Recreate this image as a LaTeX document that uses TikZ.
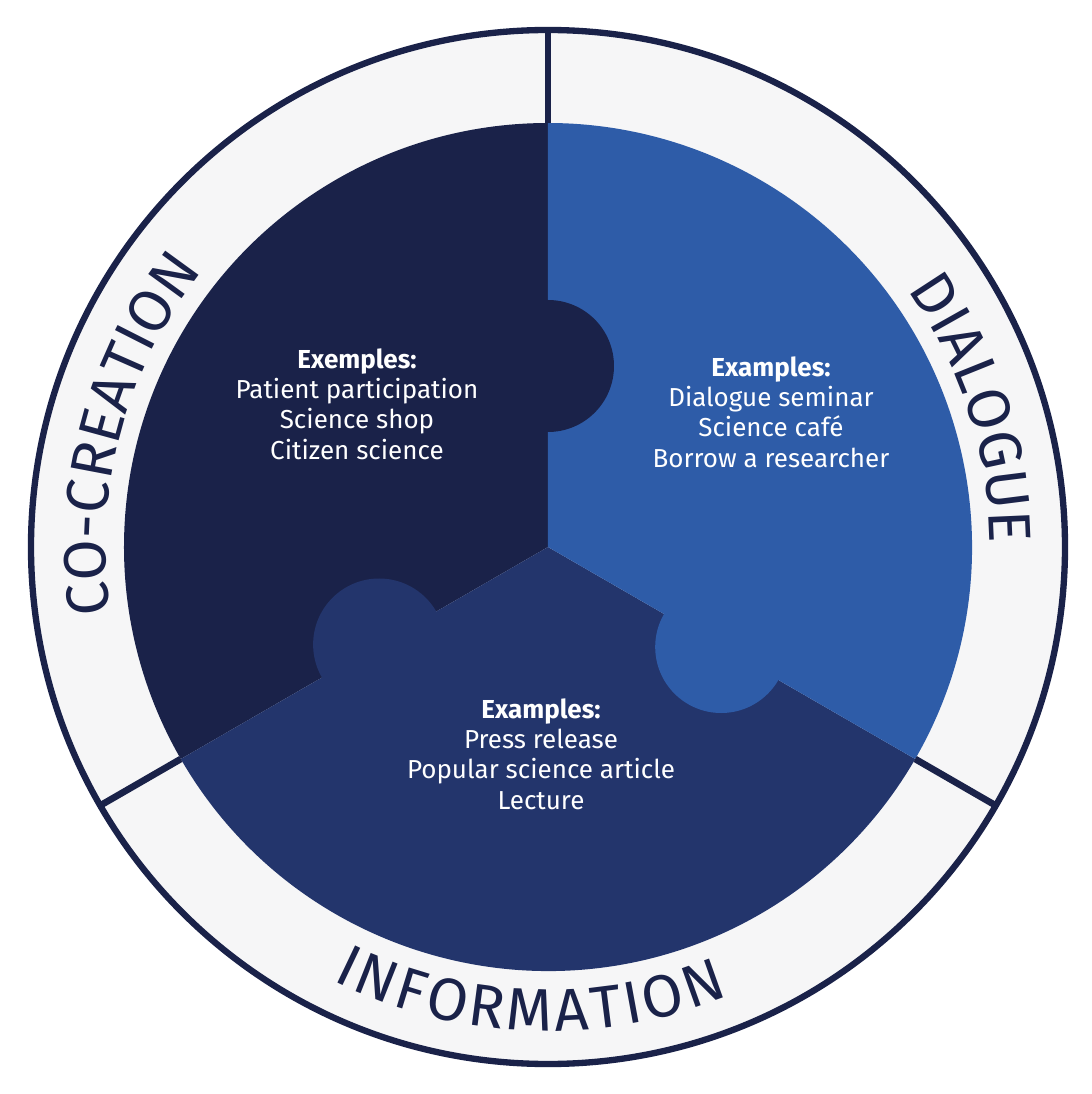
\documentclass[tikz,border=0pt]{standalone}
\usepackage{fontspec}
\setmainfont{Fira Sans}
\usetikzlibrary{decorations.text}

\definecolor{navydark}{HTML}{1A2249}
\definecolor{navymid}{HTML}{23356C}
\definecolor{bluelight}{HTML}{2E5CA8}
\definecolor{ringgrey}{HTML}{F6F6F7}

\newcommand{\ringfont}{\fontsize{17}{17}\selectfont}

\begin{document}
\begin{tikzpicture}[
    examples/.style={text=white, align=center, inner sep=0pt,
        font=\fontsize{7.4}{8.6}\selectfont},
    divider/.style={navydark, line width=1.9pt},
    ringlabel/.style={decorate, decoration={text along path, text align=center,
        text color=navydark, text={|\ringfont|#1}}},
    ringlabelfit/.style={decorate, decoration={text along path, text align=fit to path,
        text color=navydark, text={|\ringfont|#1}}}
]
    \useasboundingbox (-5.48,-5.47) rectangle (5.44,5.47);

    % outer ring
    \fill[ringgrey] (0,0) circle (5.17);
    \draw[navydark, line width=1.8pt] (0,0) circle (5.17);

    % the three sectors
    \fill[navydark] (0,0) -- (90:4.24) arc (90:210:4.24) -- cycle;
    \fill[navymid] (0,0) -- (210:4.24) arc (210:330:4.24) -- cycle;
    \fill[bluelight] (0,0) -- (330:4.24) arc (-30:90:4.24) -- cycle;

    % puzzle tabs
    \fill[navydark] (90:1.81) circle (0.66);
    \fill[navymid] (210:1.95) circle (0.66);
    \fill[bluelight] (330:2.0) circle (0.66);

    % dividers in the ring
    \foreach \a in {90,210,330}
        \draw[divider] (\a:4.24) -- (\a:5.17);

    % ring labels
    \path[ringlabel=CO-CREATION] (215:4.42) arc (215:115:4.42);
    \path[ringlabel=DIALOGUE] (68:4.42) arc (68:-32:4.42);
    \path[ringlabelfit=INFORMATION] (243.5:4.84) arc (243.5:292:4.84);

    % examples
    \node[examples] (cocreation) at (-1.91,1.43)
        {\textbf{Exemples:}\\Patient participation\\Science shop\\Citizen science};
    \node[examples] (dialogue) at (2.23,1.35)
        {\textbf{Examples:}\\Dialogue seminar\\Science café\\Borrow a researcher};
    \node[examples] (information) at (-0.07,-2.07)
        {\textbf{Examples:}\\Press release\\Popular science article\\Lecture};
\end{tikzpicture}
\end{document}
